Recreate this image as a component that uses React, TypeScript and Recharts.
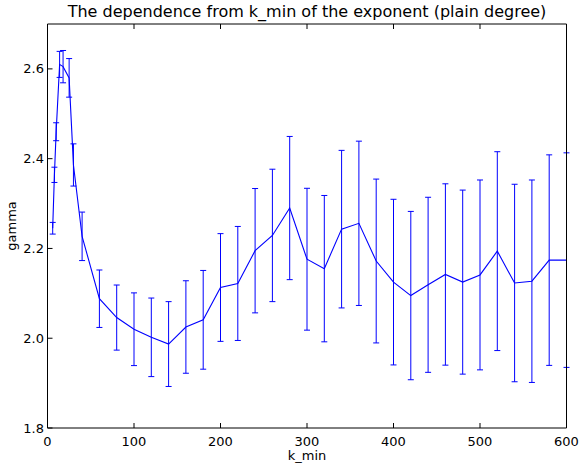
import React from "react";
import { LineChart, Line, XAxis, YAxis, ErrorBar } from "recharts";

const K_MIN = [6, 8, 10, 14, 18, 25, 30, 40, 60, 80, 100, 120, 140, 160, 180, 200, 220, 240, 260, 280, 300, 320, 340, 360, 380, 400, 420, 440, 460, 480, 500, 520, 540, 560, 580, 600];
const GAMMA = [2.245, 2.364, 2.46, 2.61, 2.605, 2.58, 2.386, 2.227, 2.088, 2.046, 2.02, 2.002, 1.987, 2.025, 2.041, 2.113, 2.122, 2.195, 2.229, 2.29, 2.176, 2.155, 2.243, 2.256, 2.172, 2.125, 2.095, 2.119, 2.142, 2.125, 2.141, 2.194, 2.123, 2.127, 2.174, 2.174];
const GAMMA_ERR = [0.013, 0.017, 0.02, 0.029, 0.036, 0.043, 0.047, 0.054, 0.064, 0.0725, 0.081, 0.0875, 0.0945, 0.103, 0.11, 0.12, 0.127, 0.1385, 0.1475, 0.1595, 0.158, 0.163, 0.1755, 0.183, 0.1825, 0.1845, 0.1875, 0.195, 0.202, 0.205, 0.2115, 0.2215, 0.22, 0.2255, 0.2345, 0.239];

const X_TICKS = [0, 100, 200, 300, 400, 500, 600];
const Y_TICKS = [1.8, 2.0, 2.2, 2.4, 2.6];

const TITLE = "The dependence from k_min of the exponent (plain degree)";
const X_LABEL = "k_min";
const Y_LABEL = "gamma";

const data = K_MIN.map((k, i) => ({ k, gamma: GAMMA[i], err: GAMMA_ERR[i] }));

const FONT = "DejaVu Sans";
const BLUE = "#0000ff";
const TICK_LEN = 5;

const BottomTick = ({ x, y, payload }: any) => (
  <g>
    <line x1={x} x2={x} y1={y} y2={y - TICK_LEN} stroke="#000" />
    <text x={x} y={y + 18} textAnchor="middle" fontFamily={FONT} fontSize={13} fill="#000">
      {payload.value}
    </text>
  </g>
);

const TopTick = ({ x, y }: any) => (
  <line x1={x} x2={x} y1={y} y2={y + TICK_LEN} stroke="#000" />
);

const LeftTick = ({ x, y, payload }: any) => (
  <g>
    <line x1={x} x2={x + TICK_LEN} y1={y} y2={y} stroke="#000" />
    <text x={x - 3.5} y={y + 4.5} textAnchor="end" fontFamily={FONT} fontSize={13} fill="#000">
      {Number(payload.value).toFixed(1)}
    </text>
  </g>
);

const RightTick = ({ x, y }: any) => (
  <line x1={x} x2={x - TICK_LEN} y1={y} y2={y} stroke="#000" />
);

export default function App() {
  return (
    <div style={{ position: "absolute", left: 0, top: 0, width: 580, height: 470, background: "#fff" }}>
      <LineChart width={580} height={470} data={data} margin={{ top: 0, right: 0, bottom: 0, left: 0 }}>
        <XAxis
          dataKey="k"
          type="number"
          domain={[0, 600]}
          ticks={X_TICKS}
          height={42}
          tickSize={0}
          tickMargin={0}
          tick={<BottomTick />}
          tickLine={false}
          axisLine={{ stroke: "#000" }}
          interval={0}
        />
        <XAxis
          xAxisId="top"
          orientation="top"
          dataKey="k"
          type="number"
          domain={[0, 600]}
          ticks={X_TICKS}
          height={24}
          tickSize={0}
          tickMargin={0}
          tick={<TopTick />}
          tickLine={false}
          axisLine={{ stroke: "#000" }}
          interval={0}
        />
        <YAxis
          type="number"
          domain={[1.8, 2.7]}
          ticks={Y_TICKS}
          width={47.5}
          tickSize={0}
          tickMargin={0}
          tick={<LeftTick />}
          tickLine={false}
          axisLine={{ stroke: "#000" }}
          interval={0}
        />
        <YAxis
          yAxisId="right"
          orientation="right"
          type="number"
          domain={[1.8, 2.7]}
          ticks={Y_TICKS}
          width={13.5}
          tickSize={0}
          tickMargin={0}
          tick={<RightTick />}
          tickLine={false}
          axisLine={{ stroke: "#000" }}
          interval={0}
        />
        <Line
          dataKey="gamma"
          stroke={BLUE}
          strokeWidth={1.1}
          dot={false}
          activeDot={false}
          isAnimationActive={false}
        >
          <ErrorBar dataKey="err" direction="y" width={3} stroke={BLUE} strokeWidth={1} isAnimationActive={false} />
        </Line>
      </LineChart>
      <svg width={580} height={470} style={{ position: "absolute", left: 0, top: 0, pointerEvents: "none" }}>
        <text x={307} y={17} textAnchor="middle" fontFamily={FONT} fontSize={16} fill="#000">
          {TITLE}
        </text>
        <text x={307} y={460} textAnchor="middle" fontFamily={FONT} fontSize={13} fill="#000">
          {X_LABEL}
        </text>
        <text x={16} y={226} textAnchor="middle" fontFamily={FONT} fontSize={13} fill="#000" transform="rotate(-90 16 226)">
          {Y_LABEL}
        </text>
      </svg>
    </div>
  );
}
